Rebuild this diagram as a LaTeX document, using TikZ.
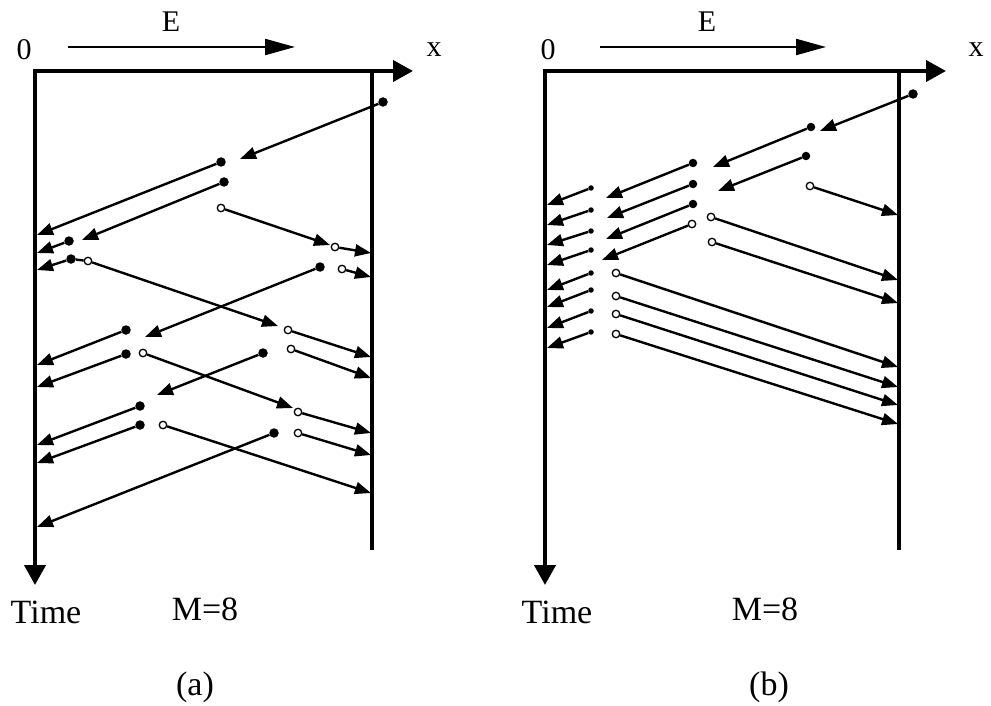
\documentclass[tikz,border=0pt]{standalone}
\usepackage{fontspec}
\setmainfont{Liberation Serif}
\usetikzlibrary{arrows.meta}
\tikzset{
  fdot/.style={circle, fill=black, inner sep=0pt, minimum size=9.5pt},
  gdot/.style={circle, fill=black, inner sep=0pt, minimum size=8.5pt},
  sdot/.style={circle, fill=black, inner sep=0pt, minimum size=5.5pt},
  odot/.style={circle, draw=black, fill=white, line width=1.3pt, inner sep=0pt, minimum size=7.5pt},
  sig/.style={line width=2.4pt, -{Triangle[length=16pt,width=12pt]}},
  link/.style={line width=2.4pt},
  axes/.style={line width=4pt, {Triangle[length=20pt,width=21pt]}-{Triangle[length=20pt,width=21pt]}},
  wall/.style={line width=3.2pt},
  field/.style={line width=2.2pt, -{Triangle[length=30pt,width=16pt]}},
  lbl/.style={inner sep=0pt, anchor=base, font=\fontsize{30}{36}\selectfont},
  bottomlbl/.style={inner sep=0pt, anchor=base, font=\fontsize{34}{40}\selectfont}
}
\begin{document}
\begin{tikzpicture}[x=1pt, y=-1pt]
\useasboundingbox (0,0) rectangle (991,706);

% panel (a): frame and labels
\coordinate (xa) at (413,71);
\coordinate (oa) at (35,71);
\coordinate (ta) at (35,585);
\coordinate (wa1) at (372,71);
\coordinate (wa2) at (372,550);
\coordinate (ea1) at (68,47);
\coordinate (ea2) at (295,47);
\path[draw,axes] (xa) -- (oa) -- (ta);
\path[draw,wall] (wa1) -- (wa2);
\path[draw,field] (ea1) -- (ea2);
\node[lbl] (zeroa) at (24,60) {0};
\node[lbl] (Ea) at (171,32) {E};
\node[lbl] (xlbla) at (434,57) {x};
\node[bottomlbl] (timea) at (46,623) {Time};
\node[bottomlbl] (Ma) at (205,620) {M=8};
\node[bottomlbl] (capa) at (195,695) {(a)};

% panel (a): carriers
\node[fdot] (f1) at (383,102) {};
\node[fdot] (f2) at (221,162) {};
\node[fdot] (f3) at (224,182) {};
\node[odot] (o4) at (221,208) {};
\node[fdot] (f5) at (69,241) {};
\node[odot] (o6) at (335,247) {};
\node[fdot] (f7) at (71,259) {};
\node[odot] (o8) at (88,261) {};
\node[fdot] (f9) at (320,267) {};
\node[odot] (o10) at (342,269) {};
\node[odot] (o11) at (288,330) {};
\node[fdot] (f12) at (126,330) {};
\node[fdot] (f13) at (126,354) {};
\node[odot] (o14) at (143,353) {};
\node[odot] (o15) at (291,349) {};
\node[fdot] (f16) at (263,353) {};
\node[odot] (o17) at (298,412) {};
\node[fdot] (f18) at (140,406) {};
\node[fdot] (f19) at (140,425) {};
\node[odot] (o20) at (163,425) {};
\node[fdot] (f21) at (274,433) {};
\node[odot] (o22) at (298,433) {};

\coordinate (c1) at (240,159);
\coordinate (c2) at (37,235);
\coordinate (c3) at (82,240);
\coordinate (c4) at (330,245);
\coordinate (c5) at (37,253);
\coordinate (c6) at (371,253);
\coordinate (c7) at (37,270);
\coordinate (c8) at (278,326);
\coordinate (c9) at (145,337);
\coordinate (c10) at (371,277);
\coordinate (c11) at (371,357);
\coordinate (c12) at (37,365);
\coordinate (c13) at (37,387);
\coordinate (c14) at (293,408);
\coordinate (c15) at (371,378);
\coordinate (c16) at (157,395);
\coordinate (c17) at (371,433);
\coordinate (c18) at (37,445);
\coordinate (c19) at (37,463);
\coordinate (c20) at (371,493);
\coordinate (c21) at (37,527);
\coordinate (c22) at (371,455);

\path[draw,sig] (f1) -- (c1);
\path[draw,sig] (f2) -- (c2);
\path[draw,sig] (f3) -- (c3);
\path[draw,sig] (o4) -- (c4);
\path[draw,sig] (f5) -- (c5);
\path[draw,sig] (o6) -- (c6);
\path[draw,sig] (f7) -- (c7);
\path[draw,link] (f7) -- (o8);
\path[draw,sig] (o8) -- (c8);
\path[draw,sig] (f9) -- (c9);
\path[draw,sig] (o10) -- (c10);
\path[draw,sig] (o11) -- (c11);
\path[draw,sig] (f12) -- (c12);
\path[draw,sig] (f13) -- (c13);
\path[draw,sig] (o14) -- (c14);
\path[draw,sig] (o15) -- (c15);
\path[draw,sig] (f16) -- (c16);
\path[draw,sig] (o17) -- (c17);
\path[draw,sig] (f18) -- (c18);
\path[draw,sig] (f19) -- (c19);
\path[draw,sig] (o20) -- (c20);
\path[draw,sig] (f21) -- (c21);
\path[draw,sig] (o22) -- (c22);

% panel (b): frame and labels
\coordinate (xb) at (946,71);
\coordinate (ob) at (545,71);
\coordinate (tb) at (545,585);
\coordinate (wb1) at (899,71);
\coordinate (wb2) at (899,550);
\coordinate (eb1) at (600,47);
\coordinate (eb2) at (826,47);
\path[draw,axes] (xb) -- (ob) -- (tb);
\path[draw,wall] (wb1) -- (wb2);
\path[draw,field] (eb1) -- (eb2);
\node[lbl] (zerob) at (548,60) {0};
\node[lbl] (Eb) at (707,32) {E};
\node[lbl] (xlblb) at (976,57) {x};
\node[bottomlbl] (timeb) at (557,623) {Time};
\node[bottomlbl] (Mb) at (765,620) {M=8};
\node[bottomlbl] (capb) at (769,695) {(b)};

% panel (b): carriers
\node[fdot] (g1) at (913,94) {};
\node[gdot] (g2) at (811,127) {};
\node[gdot] (g3) at (806,156) {};
\node[odot] (p4) at (810,186) {};
\node[gdot] (g5) at (693,163) {};
\node[gdot] (g6) at (693,184) {};
\node[gdot] (g7) at (693,204) {};
\node[odot] (p8) at (692,224) {};
\node[odot] (p9) at (711,217) {};
\node[odot] (p10) at (712,242) {};

\coordinate (d1) at (820,131);
\coordinate (d2) at (713,167);
\coordinate (d3) at (718,191);
\coordinate (d4) at (898,215);
\coordinate (d5) at (606,198);
\coordinate (d6) at (607,218);
\coordinate (d7) at (606,239);
\coordinate (d8) at (602,260);
\coordinate (d9) at (898,280);
\coordinate (d10) at (898,303);

\path[draw,sig] (g1) -- (d1);
\path[draw,sig] (g2) -- (d2);
\path[draw,sig] (g3) -- (d3);
\path[draw,sig] (p4) -- (d4);
\path[draw,sig] (g5) -- (d5);
\path[draw,sig] (g6) -- (d6);
\path[draw,sig] (g7) -- (d7);
\path[draw,sig] (p8) -- (d8);
\path[draw,sig] (p9) -- (d9);
\path[draw,sig] (p10) -- (d10);

% small ones near the cathode
\foreach \i/\ys/\ye in {1/188/205, 2/210/225, 3/231/245, 4/250/265,
                        5/273/290, 6/290/307, 7/311/328, 8/332/348} {
  \node[sdot] (s\i) at (591,\ys) {};
  \coordinate (e\i) at (547,\ye);
  \path[draw,sig] (s\i) -- (e\i);
}
\foreach \i/\ys/\ye in {1/273/367, 2/296/387, 3/314/405, 4/334/424} {
  \node[odot] (q\i) at (616,\ys) {};
  \coordinate (h\i) at (898,\ye);
  \path[draw,sig] (q\i) -- (h\i);
}
\end{tikzpicture}
\end{document}
